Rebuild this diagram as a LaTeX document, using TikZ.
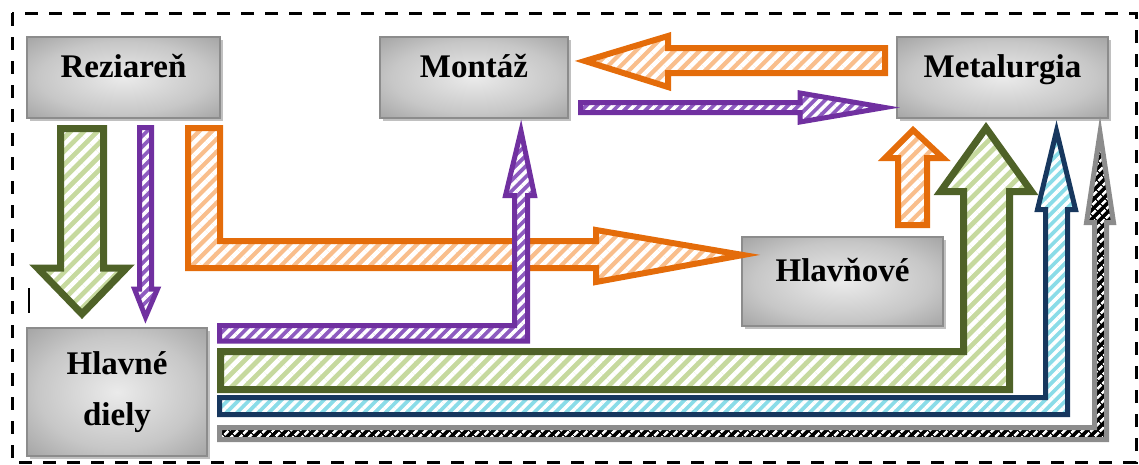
\documentclass[tikz,border=0pt]{standalone}
\usepackage{fontspec}
\setmainfont{Liberation Serif}
\usetikzlibrary{patterns.meta,shadows}
\definecolor{grnD}{HTML}{4F6228}
\definecolor{grnL}{HTML}{C6D99E}
\definecolor{orgD}{HTML}{E46C0A}
\definecolor{orgL}{HTML}{F9BE8C}
\definecolor{purD}{HTML}{7030A0}
\definecolor{purL}{HTML}{8E5CC0}
\definecolor{bluD}{HTML}{17375E}
\definecolor{bluL}{HTML}{8ADCE8}
\definecolor{gryD}{HTML}{8C8C8C}
\pgfdeclareradialshading{boxshade}{\pgfpoint{0bp}{0bp}}{color(0bp)=(black!8); color(22bp)=(black!22); color(45bp)=(black!45); color(72bp)=(black!66)}
\begin{document}
\begin{tikzpicture}[x=1pt,y=-1pt,
  boxbase/.style={draw=black!45, line width=1.2pt, shading=boxshade, inner sep=0pt,
    drop shadow={shadow xshift=2.5pt,shadow yshift=-2.5pt,fill=black!45,opacity=0.55},
    font=\fontsize{33}{40}\selectfont\bfseries},
  box/.style={boxbase, text height=24pt, text depth=24pt},
  flowbase/.style={line join=miter},
  grnflow/.style={flowbase, draw=grnD, line width=7pt, preaction={fill=grnL},
    pattern={Lines[angle=45,distance=9.5pt,line width=4.5pt]}, pattern color=white},
  orgflow/.style={flowbase, draw=orgD, line width=6pt, preaction={fill=orgL},
    pattern={Lines[angle=45,distance=9pt,line width=4.5pt]}, pattern color=white},
  purflow/.style={flowbase, draw=purD, line width=5pt, preaction={fill=purL},
    pattern={Lines[angle=45,distance=7.5pt,line width=3.5pt]}, pattern color=white},
  bluflow/.style={flowbase, draw=bluD, line width=5pt, preaction={fill=bluL},
    pattern={Lines[angle=45,distance=7.5pt,line width=3.5pt]}, pattern color=white},
  gryflow/.style={flowbase, draw=gryD, line width=5pt, preaction={fill=black},
    pattern={Lines[angle=45,distance=6.5pt,line width=3pt]}, pattern color=white},
  frame/.style={draw=black, line width=3pt, dash pattern=on 13pt off 11pt}
]
\useasboundingbox (0,0) rectangle (1139,464);
\draw[frame] (12,13) rectangle (1136,462);

% boxes
\node[box, minimum width=193pt, minimum height=81pt] (rez) at (123.5,77.5) {Reziareň};
\node[box, minimum width=188pt, minimum height=81pt] (mon) at (474,77.5) {Montáž};
\node[box, minimum width=211pt, minimum height=81pt] (met) at (1002.5,77.5) {Metalurgia};
\node[box, minimum width=201pt, minimum height=89pt] (hlv) at (842.5,281.5) {Hlavňové};
\node[boxbase, minimum width=180pt, minimum height=128pt, align=center] (hd) at (117,392) {Hlavné\\[11pt]diely};

% Reziaren -> Hlavne diely (green)
\draw[grnflow] (60.5,128.5) -- (103.5,128.5) -- (103.5,268) -- (126.5,268) -- (82,314) -- (37.5,268) -- (60.5,268) -- cycle;
% Reziaren -> Hlavne diely (purple)
\draw[purflow] (139.5,127.5) -- (151.5,127.5) -- (151.5,289) -- (157.5,289) -- (145.5,317) -- (134.5,289) -- (139.5,289) -- cycle;
% Reziaren -> Hlavnove (orange L)
\draw[orgflow] (188,128) -- (220,128) -- (220,241) -- (596,241) -- (596,230) -- (743,255) -- (596,282) -- (596,268) -- (188,268) -- cycle;
% Metalurgia -> Montaz (orange)
\draw[orgflow] (885,48) -- (885,73) -- (668,73) -- (668,87) -- (585,61) -- (668,36) -- (668,48) -- cycle;
% Montaz -> Metalurgia (purple)
\draw[purflow] (580.5,102.5) -- (800,102.5) -- (800,93) -- (885,107.5) -- (800,122) -- (800,112.5) -- (580.5,112.5) -- cycle;
% Hlavne diely -> Montaz (purple L)
\draw[purflow] (219.5,325.5) -- (514.5,325.5) -- (514.5,195.5) -- (505.5,195.5) -- (521,131) -- (534.5,195.5) -- (527.5,195.5) -- (527.5,341) -- (219.5,341) -- cycle;
% Hlavne diely -> Metalurgia (green L)
\draw[grnflow] (220.5,351.5) -- (963.5,351.5) -- (963.5,191.5) -- (940.5,191.5) -- (986,128) -- (1031.5,191.5) -- (1009.5,191.5) -- (1009.5,389.5) -- (220.5,389.5) -- cycle;
% Hlavne diely -> Metalurgia (blue L)
\draw[bluflow] (219.5,397.5) -- (1045.5,397.5) -- (1045.5,209.5) -- (1037.5,209.5) -- (1056.5,131) -- (1075.5,209.5) -- (1067.5,209.5) -- (1067.5,414.5) -- (219.5,414.5) -- cycle;
% Hlavne diely -> Metalurgia (gray L)
\draw[gryflow] (219.5,427.5) -- (1094.5,427.5) -- (1094.5,222.5) -- (1086.5,222.5) -- (1100,133) -- (1113.5,222.5) -- (1106.5,222.5) -- (1106.5,439.5) -- (219.5,439.5) -- cycle;
% Hlavnove -> Metalurgia (orange)
\draw[orgflow] (898,225) -- (898,158) -- (885,158) -- (913,130) -- (943,158) -- (927,158) -- (927,225) -- cycle;

% stray mark
\draw[line width=1.5pt] (29,288) -- (29,313);
\end{tikzpicture}
\end{document}
